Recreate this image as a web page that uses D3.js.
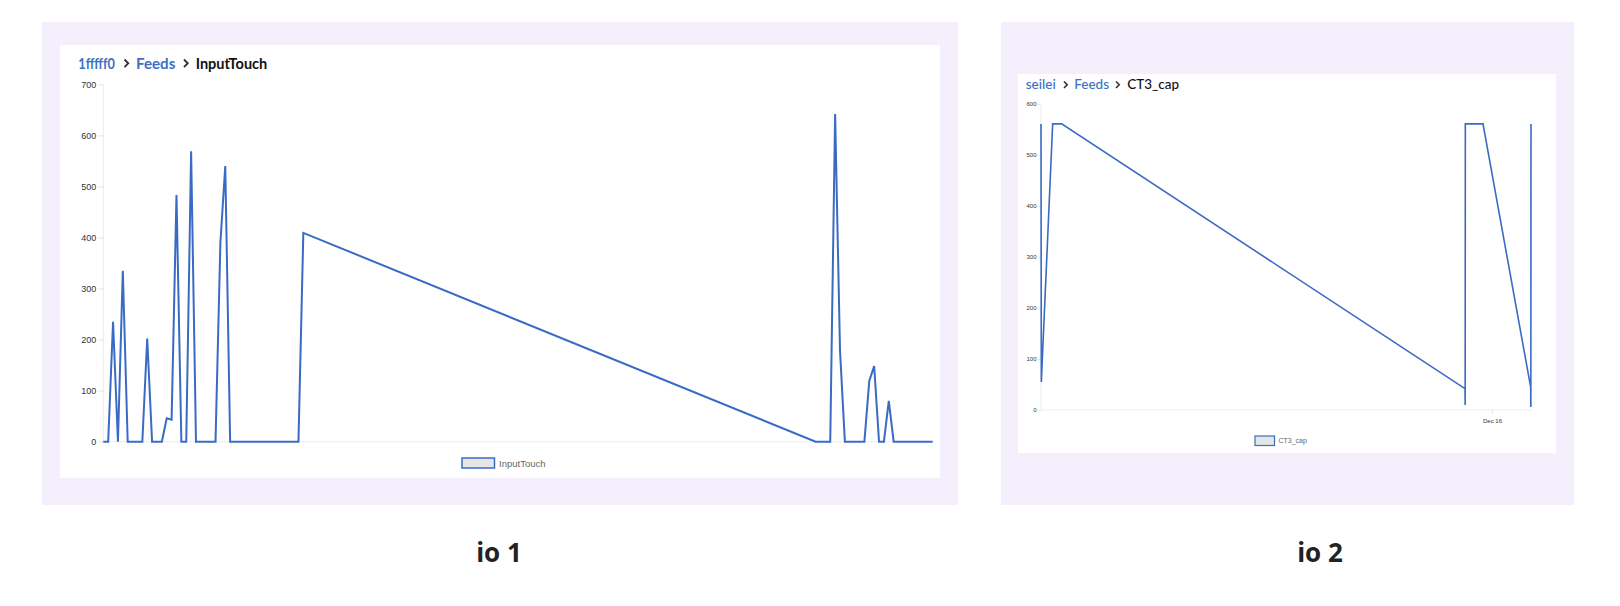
<!DOCTYPE html>
<html>
<head>
<meta charset="utf-8">
<script src="https://cdn.jsdelivr.net/npm/d3@7"></script>
<style>
  html, body { margin: 0; padding: 0; background: #ffffff; }
  svg { display: block; }
</style>
</head>
<body>
<svg id="root" width="1620" height="606"></svg>
<script>
// ---------- DATA ----------
// io 1 : feed InputTouch (sample time in minutes, value)
const touchMinutes = [0,1,2,3,4,5,8,9,10,12,13,14,15,16,17,18,19,23,24,25,26,40,41,146,149,150,151,152,156,157,158,159,160,161,162,170];
const touchValues  = [0,0,235,0,335,0,0,202,0,0,46,43,483,0,0,569,0,0,390,540,0,0,409,0,0,642,179,0,0,119,148,0,0,80,0,0];
const touchYTicks  = [0,100,200,300,400,500,600,700];

// io 2 : feed CT3_cap
const capTimes  = ["2023-12-06T14:30","2023-12-06T14:40","2023-12-06T20:20","2023-12-07T00:50",
                   "2023-12-15T10:30","2023-12-15T10:35","2023-12-15T10:40","2023-12-15T19:30",
                   "2023-12-16T19:20","2023-12-16T19:25","2023-12-16T19:30"];
const capValues = [561,55,561,561,42,10,561,561,45,6,561];
const capYTicks = [0,100,200,300,400,500,600];
const capXTicks = ["2023-12-16T00:00"];

const crumbs1 = ["1fffff0", "Feeds", "InputTouch"];
const crumbs2 = ["seilei", "Feeds", "CT3_cap"];
const captions = ["io 1", "io 2"];

// ---------- STYLE ----------
const LAVENDER = "#f5eefd";
const BLUE = "#3a6bc4";
const LINK = "#3d6fc4";
const AXIS = "#ececec";

const svg = d3.select("#root");
svg.append("rect").attr("width",1620).attr("height",606).attr("fill","#fff");

// panels & cards
svg.append("rect").attr("x",42).attr("y",22).attr("width",916).attr("height",483).attr("fill",LAVENDER);
svg.append("rect").attr("x",60).attr("y",45).attr("width",880).attr("height",433).attr("fill","#fff");
svg.append("rect").attr("x",1001).attr("y",22).attr("width",573).attr("height",483).attr("fill",LAVENDER);
svg.append("rect").attr("x",1018).attr("y",74).attr("width",538).attr("height",379).attr("fill","#fff");

// breadcrumbs
function crumb(items, xs, widths, chevX, y, size, weight) {
  const g = svg.append("g").attr("font-family","Lato, 'Open Sans', sans-serif")
    .attr("font-size", size).attr("font-weight", weight);
  items.forEach((t,i) => {
    g.append("text").attr("x", xs[i]).attr("y", y)
      .attr("textLength", widths[i]).attr("lengthAdjust","spacingAndGlyphs")
      .attr("fill", i < items.length-1 ? LINK : "#111").text(t);
  });
  chevX.forEach(cx => {
    const h = size*0.27;
    g.append("path")
      .attr("d", `M${cx},${y-size*0.62} L${cx+h*0.95},${y-size*0.36} L${cx},${y-size*0.10}`)
      .attr("fill","none").attr("stroke","#333").attr("stroke-width", size*0.13);
  });
}
crumb(crumbs1, [78.3, 136, 195.7], [36.7, 39.3, 71.6], [124.5, 184], 68.5, 14.5, 700);
crumb(crumbs2, [1025.7, 1074.3, 1127.3], [30, 34.7, 51.7], [1064, 1116], 89.3, 12.5, 500);

// ---------- CHART 1 ----------
{
  const x = d3.scaleLinear().domain([0,170]).range([103.3, 932.7]);
  const y = d3.scaleLinear().domain([0,700]).range([441.7, 84.3]);
  const g = svg.append("g");
  g.append("line").attr("x1",x(0)).attr("x2",x(0)).attr("y1",y(700)).attr("y2",y(0)).attr("stroke",AXIS);
  g.append("line").attr("x1",x(0)).attr("x2",x(170)).attr("y1",y(0)).attr("y2",y(0)).attr("stroke",AXIS);
  const ax = g.append("g").attr("transform",`translate(${x(0)},0)`)
    .call(d3.axisLeft(y).tickValues(touchYTicks).tickSize(5).tickPadding(2));
  ax.select(".domain").remove();
  ax.selectAll(".tick line").attr("stroke","#e2e2e2");
  ax.selectAll(".tick text").attr("fill","#333").attr("font-size",9)
    .attr("font-family","'Liberation Sans', Arial, sans-serif");

  const line = d3.line().x((d,i)=>x(touchMinutes[i])).y(d=>y(d));
  g.append("path").attr("d", line(touchValues)).attr("fill","none")
    .attr("stroke",BLUE).attr("stroke-width",2).attr("stroke-linejoin","miter");

  g.append("rect").attr("x",462).attr("y",458).attr("width",32.5).attr("height",10)
    .attr("fill","#e6e6e6").attr("stroke",BLUE).attr("stroke-width",1.5);
  g.append("text").attr("x",499).attr("y",466.8).attr("fill","#666").attr("font-size",9.5)
    .attr("font-family","'Liberation Sans', Arial, sans-serif").text("InputTouch");
}

// ---------- CHART 2 ----------
{
  const parse = d3.isoParse;
  const t = capTimes.map(parse);
  const x = d3.scaleTime().domain([t[0], t[t.length-1]]).range([1041, 1531]);
  const y = d3.scaleLinear().domain([0,600]).range([410, 104]);
  const g = svg.append("g");
  g.append("line").attr("x1",1041).attr("x2",1041).attr("y1",y(600)).attr("y2",y(0)).attr("stroke",AXIS);
  g.append("line").attr("x1",1041).attr("x2",1531).attr("y1",y(0)).attr("y2",y(0)).attr("stroke",AXIS);

  const ay = g.append("g").attr("transform","translate(1041,0)")
    .call(d3.axisLeft(y).tickValues(capYTicks).tickSize(3).tickPadding(1.5));
  ay.select(".domain").remove();
  ay.selectAll(".tick line").attr("stroke","#e6e6e6");
  ay.selectAll(".tick text").attr("fill","#333").attr("font-size",6)
    .attr("font-family","'Liberation Sans Narrow', 'Liberation Sans', Arial, sans-serif");

  const axx = g.append("g").attr("transform",`translate(0,${y(0)})`)
    .call(d3.axisBottom(x).tickValues(capXTicks.map(parse)).tickFormat(d3.timeFormat("%b %d")).tickSize(4).tickPadding(5));
  axx.select(".domain").remove();
  axx.selectAll(".tick line").attr("stroke","#e6e6e6");
  axx.selectAll(".tick text").attr("fill","#333").attr("font-size",6)
    .attr("font-family","'Liberation Sans Narrow', 'Liberation Sans', Arial, sans-serif");

  const line = d3.line().x((d,i)=>x(t[i])).y(d=>y(d));
  g.append("path").attr("d", line(capValues)).attr("fill","none")
    .attr("stroke",BLUE).attr("stroke-width",1.6);

  g.append("rect").attr("x",1255).attr("y",436).attr("width",19.5).attr("height",9.5)
    .attr("fill","#e6e6e6").attr("stroke",BLUE).attr("stroke-width",1.2);
  g.append("text").attr("x",1278.5).attr("y",443).attr("fill","#666").attr("font-size",7)
    .attr("font-family","'Liberation Sans Narrow', 'Liberation Sans', Arial, sans-serif").text("CT3_cap");
}

// captions
svg.selectAll("text.cap").data(captions).join("text").attr("class","cap")
  .attr("x",(d,i)=>[499,1320][i]).attr("y",562).attr("text-anchor","middle")
  .attr("font-family","'Open Sans', 'Noto Sans', sans-serif").attr("font-weight",700)
  .attr("font-size",26).attr("fill","#222").text(d=>d);
</script>
</body>
</html>
